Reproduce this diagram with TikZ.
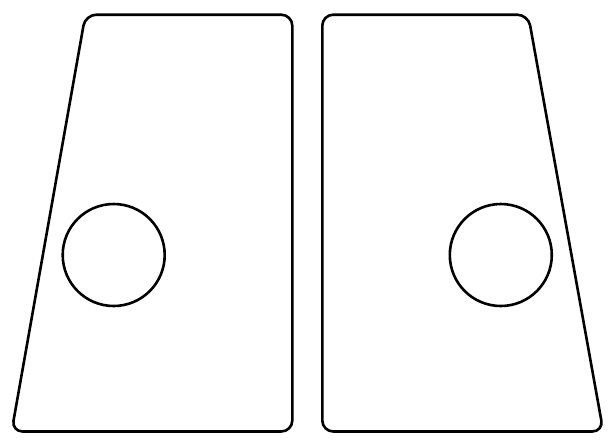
\documentclass[tikz,border=0pt]{standalone}
\usetikzlibrary{calc}

\begin{document}
\begin{tikzpicture}[x=1pt, y=-1pt]
        % ================= 样式定义 =================
        \tikzset{
            panel/.style={line width=2.6pt, black, rounded corners=11pt, line join=round},
            hole/.style={circle, draw=black, line width=2.6pt, minimum size=102pt, inner sep=0pt}
        }

        % 画布大小
        \useasboundingbox (0,0) rectangle (611,440);

        % ================= 左板 =================
        \begin{scope}
            % 顶点:左边斜,右边直
            \coordinate (l1) at (85.4,14.7);   % 左上
            \coordinate (l2) at (292.3,14.7);  % 右上
            \coordinate (l3) at (292.3,431.5); % 右下
            \coordinate (l4) at (11.6,431.5);  % 左下

            \draw[panel] (l1)--(l2)--(l3)--(l4)--cycle;

            % 圆孔
            \node[hole] (hl) at (113.7,255) {};
        \end{scope}

        % ================= 右板 =================
        \begin{scope}
            % 顶点:左边直,右边斜
            \coordinate (r1) at (322.3,14.7);  % 左上
            \coordinate (r2) at (528.2,14.7);  % 右上
            \coordinate (r3) at (603.3,431.5); % 右下
            \coordinate (r4) at (322.3,431.5); % 左下

            \draw[panel] (r1)--(r2)--(r3)--(r4)--cycle;

            % 圆孔
            \node[hole] (hr) at (500.8,255) {};
        \end{scope}

    \end{tikzpicture}
\end{document}
